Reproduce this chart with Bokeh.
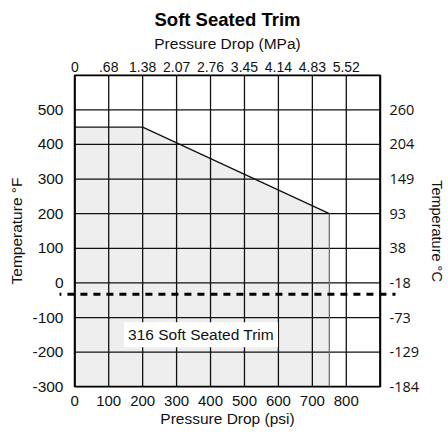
from bokeh.plotting import figure
from bokeh.models import LinearAxis, FixedTicker, Range1d, Label, Title
from bokeh.embed import file_html
from bokeh.resources import INLINE

# ---- data ----
psi_ticks = [0, 100, 200, 300, 400, 500, 600, 700, 800]
mpa_labels = ["0", ".68", "1.38", "2.07", "2.76", "3.45", "4.14", "4.83", "5.52"]
degF_ticks = [-300, -200, -100, 0, 100, 200, 300, 400, 500]
degF_labels = ["-300", "-200", "-100", "0", "100", "200", "300", "400", "500"]
degC_labels = ["-184", "-129", "-73", "-18", "38", "93", "149", "204", "260"]
grid_psi = [0, 100, 200, 300, 400, 500, 600, 700, 800, 900]
grid_degF = [-300, -200, -100, 0, 100, 200, 300, 400, 500, 600]
envelope_psi = [0, 0, 200, 750, 750]
envelope_degF = [-300, 450, 450, 200, -300]
top_edge_psi = [0, 200, 750]
top_edge_degF = [450, 450, 200]
side_edge_psi = [750, 750]
side_edge_degF = [200, -300]
min_temp_degF = -33
region_label = "316 Soft Seated Trim"
region_label_psi = 372
region_label_degF = -150

FONT = "Liberation Sans"
FONT_R = "Open Sans"

x_lo, x_hi = grid_psi[0], grid_psi[-1]
y_lo, y_hi = grid_degF[0], grid_degF[-1]

p = figure(width=448, height=435, output_backend="svg", toolbar_location=None,
           x_range=Range1d(-45, 945), y_range=Range1d(-302, 602),
           x_axis_location=None, y_axis_location=None,
           min_border_left=59, min_border_right=47, min_border_top=74, min_border_bottom=48)
p.background_fill_color = "white"
p.border_fill_color = "white"
p.outline_line_color = None
p.xgrid.visible = False
p.ygrid.visible = False

p.title = Title(text="Soft Seated Trim", align="center", text_font=FONT,
                text_font_size="18.5px", text_font_style="bold", text_color="black",
                standoff=3, offset=0)

def style_axis(ax, font, size, label_font, label_size):
    ax.axis_line_color = None
    ax.major_tick_line_color = None
    ax.minor_tick_line_color = None
    ax.major_tick_out = 0
    ax.major_tick_in = 0
    ax.minor_tick_out = 0
    ax.minor_tick_in = 0
    ax.major_label_text_font = font
    ax.major_label_text_font_size = size
    ax.major_label_text_color = "#111111"
    ax.axis_label_text_font = label_font
    ax.axis_label_text_font_size = label_size
    ax.axis_label_text_font_style = "normal"
    ax.axis_label_text_color = "#111111"

bottom = LinearAxis(ticker=FixedTicker(ticks=psi_ticks), axis_label="Pressure Drop (psi)")
style_axis(bottom, FONT, "15px", FONT, "15.5px")
bottom.major_label_standoff = 8
bottom.axis_label_standoff = 1
p.add_layout(bottom, "below")

top = LinearAxis(ticker=FixedTicker(ticks=psi_ticks), axis_label="Pressure Drop (MPa)",
                 major_label_overrides={t: s for t, s in zip(psi_ticks, mpa_labels)})
style_axis(top, FONT, "14px", FONT, "15.5px")
top.major_label_standoff = 3
top.axis_label_standoff = 7
p.add_layout(top, "above")

left = LinearAxis(ticker=FixedTicker(ticks=degF_ticks), axis_label="Temperature \u00b0F",
                  major_label_overrides={t: s for t, s in zip(degF_ticks, degF_labels)})
style_axis(left, FONT, "15.5px", FONT, "15.5px")
left.major_label_standoff = -4
left.axis_label_standoff = 4
p.add_layout(left, "left")

right = LinearAxis(ticker=FixedTicker(ticks=degF_ticks), axis_label="Temperature \u00b0C",
                   major_label_overrides={t: s for t, s in zip(degF_ticks, degC_labels)})
style_axis(right, FONT_R, "14.5px", FONT, "14.5px")
right.major_label_standoff = -6
right.axis_label_standoff = 7
p.add_layout(right, "right")

# shaded envelope
env = p.patch(envelope_psi, envelope_degF, fill_color="#eeeeee", line_color=None)
env.level = "underlay"

# grid
p.segment(x0=grid_psi, y0=[y_lo] * len(grid_psi), x1=grid_psi, y1=[y_hi] * len(grid_psi),
          line_color="#111111", line_width=1.3)
p.segment(x0=[x_lo] * len(grid_degF), y0=grid_degF, x1=[x_hi] * len(grid_degF), y1=grid_degF,
          line_color="#111111", line_width=1.3)

# envelope edges
p.line(top_edge_psi, top_edge_degF, line_color="#111111", line_width=1.3)
p.line(side_edge_psi, side_edge_degF, line_color="#666666", line_width=1.2)

# frame border
p.quad(left=[x_lo], right=[x_hi], bottom=[y_lo], top=[y_hi],
       fill_color=None, line_color="black", line_width=2)

# minimum temperature (dashed), extends past the frame
p.segment(x0=[-60], y0=[min_temp_degF], x1=[960], y1=[min_temp_degF],
          line_color="black", line_width=3, line_dash="7 6")

lab = Label(x=region_label_psi, y=region_label_degF, text=region_label,
            text_font=FONT, text_font_size="15.5px", text_color="#111111",
            text_align="center", text_baseline="middle",
            background_fill_color="white", padding=4)
p.add_layout(lab)

open("out.html", "w").write(file_html(p, INLINE))
